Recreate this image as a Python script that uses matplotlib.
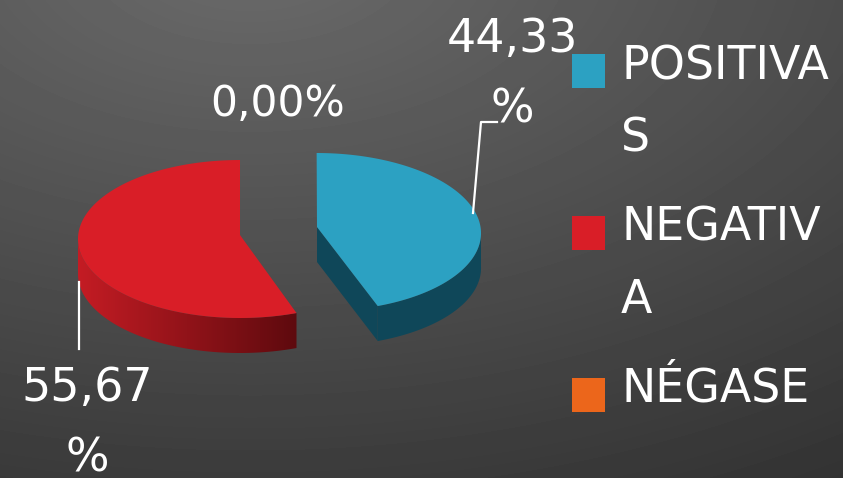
import numpy as np
import matplotlib
matplotlib.use('Agg')
import matplotlib.pyplot as plt
from matplotlib.patches import Polygon, Rectangle
from matplotlib.colors import LinearSegmentedColormap

categories = ['POSITIVA\nS', 'NEGATIV\nA', 'NÉGASE']
values = [44.33, 55.67, 0.00]
colors = ['#2CA1C2', '#D91E27', '#EC661B']
label_texts = ['44,33\n%', '55,67\n%', '0,00%']

# pie geometry, in pixels
rx, ry = 162, 79
depth = 35
centers = [(319, 232), (240, 239)]
apexes = [(317, 227), (240, 235)]
shear = 0.03

plt.rcParams['font.family'] = ['DejaVu Sans']
fig = plt.figure(figsize=(8.43, 4.78), dpi=100)
ax = fig.add_axes([0, 0, 1, 1])
ax.set_xlim(0, 843)
ax.set_ylim(478, 0)
ax.axis('off')

# background gradient
yy, xx = np.mgrid[0:478, 0:843]
dist = np.sqrt(((xx - 250) / 843) ** 2 + ((yy + 50) / 478) ** 2)
bg = np.clip(0.42 - 0.17 * dist, 0, 1)
ax.imshow(bg, cmap='gray', vmin=0, vmax=1, extent=(0, 843, 478, 0), aspect='auto', zorder=0)


def slice_pts(start, end, center, sh=0.0):
    # angles clockwise from the top, in percent of the pie
    t = np.radians(np.linspace(start, end, 300) * 3.6)
    dy = -ry * np.cos(t)
    return center[0] + rx * np.sin(t) + sh * dy, center[1] + dy


# blue slice
x, y = slice_pts(0, values[0], centers[0], shear)
ax0, ay0 = apexes[0]
low_x, low_y = slice_pts(25, values[0], centers[0], shear)
ax.add_patch(Polygon(np.c_[np.r_[low_x, low_x[::-1]], np.r_[low_y, low_y[::-1] + depth]],
                     fc='#0F4759', ec='none', zorder=2))
ax.add_patch(Polygon(np.c_[[ax0, ax0, x[-1], x[-1]], [ay0, ay0 + depth, y[-1] + depth, y[-1]]],
                     fc='#0F4759', ec='none', zorder=2))
ax.add_patch(Polygon(np.c_[np.r_[ax0, x], np.r_[ay0, y]], fc=colors[0], ec='none', zorder=3))

# red slice
x, y = slice_pts(values[0], 100, centers[1])
ax1, ay1 = apexes[1]
low_x, low_y = slice_pts(values[0], 75, centers[1])
wall = Polygon(np.c_[np.r_[low_x, low_x[::-1]], np.r_[low_y, low_y[::-1] + depth]],
               fc='none', ec='none', zorder=2)
ax.add_patch(wall)
cm = LinearSegmentedColormap.from_list('side', ['#C41C24', '#5E0A0E'])
im = ax.imshow(np.linspace(0, 1, 256).reshape(1, -1), cmap=cm,
               extent=(low_x.min(), low_x.max(), 478, 0), aspect='auto', zorder=2)
ax.set_xlim(0, 843)
ax.set_ylim(478, 0)
im.set_clip_path(wall)
ax.add_patch(Polygon(np.c_[np.r_[ax1, x], np.r_[ay1, y]], fc=colors[1], ec='none', zorder=3))

# leader lines
ax.plot([473, 481, 497], [213, 122, 122], color='white', lw=1.6, zorder=4)
ax.plot([79, 79], [282, 349], color='white', lw=1.6, zorder=4)

# data labels, y is the baseline of the last line
lab_pos = [(512, 122), (87, 471), (278, 116)]
lab_size = [33, 33, 30.5]
for txt, (px, py), fs in zip(label_texts, lab_pos, lab_size):
    ax.text(px, py, txt, color='white', fontsize=fs, ha='center', va='baseline', linespacing=1.72, zorder=5)

# legend
box_top = [54, 216, 378]
leg_base = [152, 313, 402]
for cat, c, top, base in zip(categories, colors, box_top, leg_base):
    ax.add_patch(Rectangle((572, top), 33, 34, fc=c, ec='none', zorder=5))
    ax.text(621, base, cat, color='white', fontsize=33, ha='left', va='baseline', linespacing=1.78, zorder=5)

fig.savefig('out.png', dpi=100)
